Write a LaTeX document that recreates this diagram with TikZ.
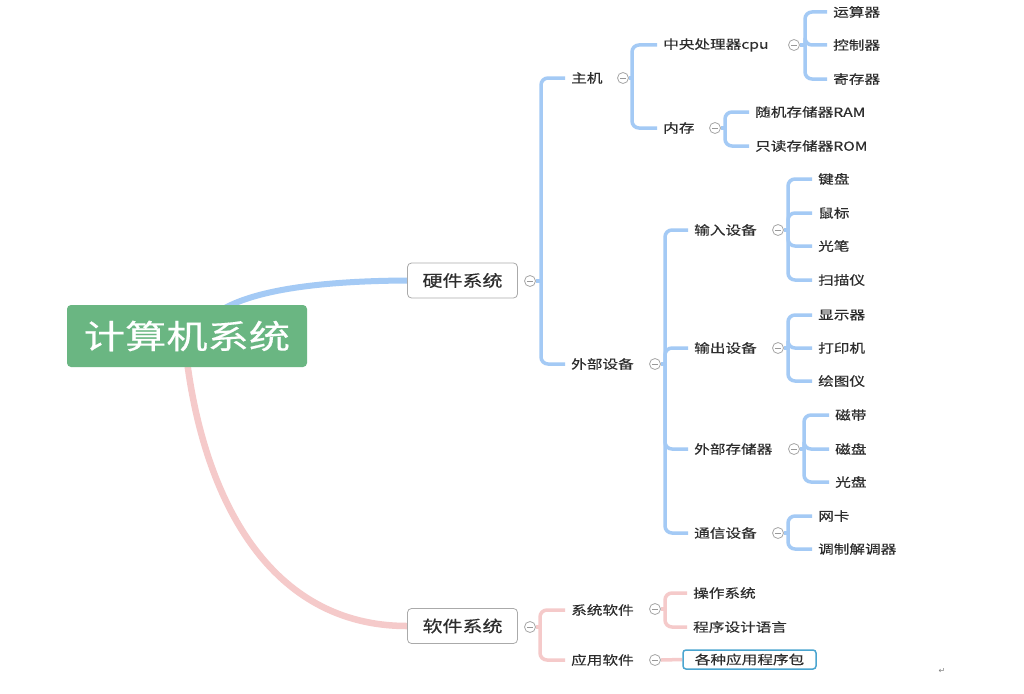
\documentclass[tikz,border=0pt]{standalone}
\usepackage{fontspec}
\setmainfont{Noto Sans CJK SC}[FakeBold=0.35]
\newfontfamily\djv{DejaVu Sans}
\usetikzlibrary{calc}
\pgfdeclarelayer{bg}
\pgfsetlayers{bg,main}
\definecolor{hwc}{RGB}{164,202,245}
\definecolor{swc}{RGB}{245,202,202}
\definecolor{rootc}{RGB}{106,182,130}
\definecolor{txt}{RGB}{45,45,45}
\definecolor{boxb}{RGB}{170,170,170}
\definecolor{pkgb}{RGB}{75,165,208}
\newcommand{\hs}[1]{\scalebox{1.25}[1]{#1}}
\begin{document}
\begin{tikzpicture}[x=1pt,y=-1pt,
  lab/.style={anchor=west, inner xsep=6pt, inner ysep=2pt, text=txt, font=\fontsize{12.5}{14}\selectfont},
  lone/.style={draw=boxb, fill=white, rounded corners=4pt, line width=0.8pt, minimum width=110pt, minimum height=35pt, inner sep=0pt, text=txt, font=\fontsize{16}{18}\selectfont},
  rootbox/.style={fill=rootc, rounded corners=4pt, minimum width=240pt, minimum height=62pt, inner sep=0pt, text=white, font=\fontsize{33}{36}\selectfont},
  pkgbox/.style={draw=pkgb, fill=white, line width=1.5pt, rounded corners=3pt, minimum width=133pt, minimum height=19pt, inner sep=0pt, text=txt, font=\fontsize{12.5}{14}\selectfont},
  tog/.style={circle, draw=gray!70, line width=0.8pt, minimum size=11pt, inner sep=0pt, fill=white,
    path picture={\draw[gray!80, line width=0.8pt] ([xshift=-3.2pt]path picture bounding box.center) -- ([xshift=3.2pt]path picture bounding box.center);}},
  hwl/.style={draw=hwc, line width=3.5pt},
  swl/.style={draw=swc, line width=3.5pt},
  br/.style={rounded corners=7pt}
]
\useasboundingbox (0,0) rectangle (1024,693);

% root and first level
\node[rootbox] (root) at (187,336) {\hs{计算机系统}};
\node[lone] (hw) at (462.5,280.5) {\hs{硬件系统}};
\node[tog] (thw) at (530,281) {};
\coordinate (bhw) at (541,0);
\node[lone] (sw) at (462.5,626) {\hs{软件系统}};
\node[tog] (tsw) at (530,627) {};
\coordinate (bsw) at (540,0);

% hardware
\node[lab] (zj) at (565,78) {\hs{主机}};
\node[tog] (tzj) at (623,78) {};
\coordinate (bzj) at (632,0);
\node[lab] (wb) at (565,364) {\hs{外部设备}};
\node[tog] (twb) at (655,364) {};
\coordinate (bwb) at (665,0);

\node[lab] (cpu) at (657,45) {\hs{中央处理器cpu}};
\node[tog] (tcpu) at (794,45) {};
\coordinate (bcpu) at (805,0);
\node[lab] (ys) at (827,12) {\hs{运算器}};
\node[lab] (kz) at (827,45) {\hs{控制器}};
\node[lab] (jc) at (827,79) {\hs{寄存器}};

\node[lab] (nc) at (657,128) {\hs{内存}};
\node[tog] (tnc) at (715,128) {};
\coordinate (bnc) at (725,0);
\node[lab] (ram) at (749,112) {\hs{随机存储器RAM}};
\node[lab] (rom) at (749,146) {\hs{只读存储器ROM}};

\node[lab] (sr) at (688,230) {\hs{输入设备}};
\node[tog] (tsr) at (778,230) {};
\coordinate (bsr) at (788,0);
\node[lab] (jp) at (812,179) {\hs{键盘}};
\node[lab] (sb) at (812,213) {\hs{鼠标}};
\node[lab] (gb) at (812,246) {\hs{光笔}};
\node[lab] (smy) at (812,280) {\hs{扫描仪}};

\node[lab] (sc) at (688,348) {\hs{输出设备}};
\node[tog] (tsc) at (778,348) {};
\coordinate (bsc) at (788,0);
\node[lab] (xsq) at (812,315) {\hs{显示器}};
\node[lab] (dyj) at (812,348) {\hs{打印机}};
\node[lab] (hty) at (812,381) {\hs{绘图仪}};

\node[lab] (wc) at (688,449) {\hs{外部存储器}};
\node[tog] (twc) at (794,449) {};
\coordinate (bwc) at (804,0);
\node[lab] (cd) at (829,415) {\hs{磁带}};
\node[lab] (cp) at (829,449) {\hs{磁盘}};
\node[lab] (gp) at (829,482) {\hs{光盘}};

\node[lab] (tx) at (688,533) {\hs{通信设备}};
\node[tog] (ttx) at (778,533) {};
\coordinate (btx) at (788,0);
\node[lab] (wk) at (812,516) {\hs{网卡}};
\node[lab] (tz) at (812,549) {\hs{调制解调器}};

% software
\node[lab] (xt) at (565,610) {\hs{系统软件}};
\node[tog] (txt) at (655,609) {};
\coordinate (bxt) at (665,0);
\node[lab] (czxt) at (687,593) {\hs{操作系统}};
\node[lab] (cxsj) at (687,627) {\hs{程序设计语言}};
\node[lab] (yy) at (565,660) {\hs{应用软件}};
\node[tog] (tyy) at (655,660) {};
\node[pkgbox] (pkg) at (749.5,659.5) {\hs{各种应用程序包}};

\node[text=gray, font=\djv\fontsize{8}{9}\selectfont, inner sep=0pt] (pm) at (942,671) {↵};

\begin{pgfonlayer}{bg}
\fill[white] (0,0) rectangle (1024,693);
\draw[draw=hwc, line width=6pt] ([xshift=30pt,yshift=-8pt]root.north) .. controls (250,290) and (320,281) .. (hw.west);
\draw[draw=swc, line width=6.5pt] ([yshift=6pt]root.south) .. controls (205,500) and (270,626) .. (sw.west);

\foreach \p/\b in {thw/bhw, tzj/bzj, tcpu/bcpu, tnc/bnc, twb/bwb, tsr/bsr, tsc/bsc, twc/bwc, ttx/btx}
  \draw[hwl] (\p.east) -- (\p.east -| \b);
\foreach \p/\b/\c in {thw/bhw/zj, thw/bhw/wb, tzj/bzj/cpu, tzj/bzj/nc, tcpu/bcpu/ys, tcpu/bcpu/kz, tcpu/bcpu/jc,
  tnc/bnc/ram, tnc/bnc/rom, twb/bwb/sr, twb/bwb/sc, twb/bwb/wc, twb/bwb/tx,
  tsr/bsr/jp, tsr/bsr/sb, tsr/bsr/gb, tsr/bsr/smy, tsc/bsc/xsq, tsc/bsc/dyj, tsc/bsc/hty,
  twc/bwc/cd, twc/bwc/cp, twc/bwc/gp, ttx/btx/wk, ttx/btx/tz}
  \draw[hwl,br] (\p.east -| \b) |- (\c.west);

\foreach \p/\b in {tsw/bsw, txt/bxt}
  \draw[swl] (\p.east) -- (\p.east -| \b);
\foreach \p/\b/\c in {tsw/bsw/xt, tsw/bsw/yy, txt/bxt/czxt, txt/bxt/cxsj}
  \draw[swl,br] (\p.east -| \b) |- (\c.west);
\draw[swl] (tyy.east) -- (pkg.west);
\end{pgfonlayer}
\end{tikzpicture}
\end{document}
